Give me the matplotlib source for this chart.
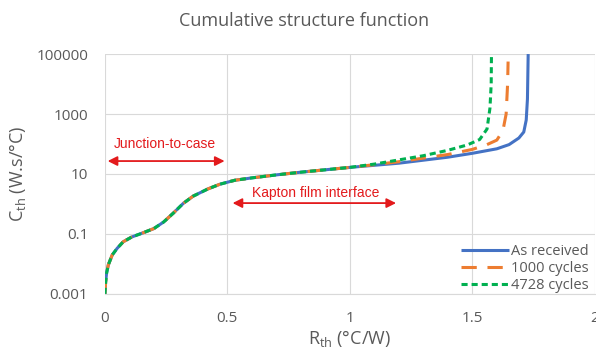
import numpy as np
import matplotlib
matplotlib.use('Agg')
import matplotlib.pyplot as plt

# shared part of the curve (all three samples overlap up to ~1 °C/W)
rth_common = [0.0, 0.003, 0.007, 0.014, 0.03, 0.05, 0.075, 0.11, 0.15, 0.2, 0.24, 0.28,
              0.32, 0.36, 0.42, 0.47, 0.53, 0.6, 0.7, 0.8, 0.9, 1.0]
logc_common = [-3.0, -2.6, -2.3, -2.03, -1.7, -1.48, -1.26, -1.1, -0.98, -0.82, -0.6, -0.3,
               0.02, 0.26, 0.5, 0.66, 0.79, 0.87, 0.97, 1.06, 1.14, 1.22]

# tails
rth_asrec = [1.1, 1.2, 1.3, 1.4, 1.5, 1.6, 1.65, 1.69, 1.71, 1.72, 1.725, 1.728]
logc_asrec = [1.29, 1.36, 1.46, 1.56, 1.69, 1.84, 1.98, 2.2, 2.4, 2.8, 3.5, 5.0]

rth_1000 = [1.1, 1.2, 1.3, 1.4, 1.5, 1.56, 1.6, 1.625, 1.638, 1.644, 1.646]
logc_1000 = [1.31, 1.41, 1.53, 1.65, 1.82, 1.98, 2.13, 2.45, 3.0, 4.0, 4.75]

rth_4728 = [1.1, 1.2, 1.3, 1.4, 1.48, 1.53, 1.56, 1.572, 1.577, 1.578]
logc_4728 = [1.33, 1.47, 1.61, 1.79, 1.97, 2.15, 2.5, 3.2, 4.0, 4.9]

labels = ['As received', '1000 cycles', '4728 cycles']
colors = ['#4472C4', '#ED7D31', '#00B050']

grey = '#595959'
plt.rcParams['font.family'] = ['Open Sans', 'DejaVu Sans']

fig = plt.figure(figsize=(5.96, 3.58), dpi=100)
ax = fig.add_axes([0.176, 0.179, 0.822, 0.670])

series = [(rth_asrec, logc_asrec, None),
          (rth_1000, logc_1000, (0, (5, 3.5))),
          (rth_4728, logc_4728, (0, (2, 1.3)))]
for (rx, lc, dash), lab, col in zip(series, labels, colors):
    x = np.array(rth_common + rx)
    y = 10.0 ** np.array(logc_common + lc)
    if dash is None:
        ax.plot(x, y, color=col, lw=2.2, label=lab, solid_capstyle='butt')
    else:
        ax.plot(x, y, color=col, lw=2.2, linestyle=dash, label=lab)

ax.set_yscale('log')
ax.set_xlim(0, 2)
ax.set_ylim(0.001, 100000)
ax.set_yticks([0.001, 0.1, 10, 1000, 100000])
ax.set_yticklabels(['0.001', '0.1', '10', '1000', '100000'])
ax.set_xticks([0, 0.5, 1, 1.5, 2])
ax.set_xticklabels(['0', '0.5', '1', '1.5', '2'])
ax.minorticks_off()
ax.tick_params(length=0, colors=grey, labelsize=11)
ax.tick_params(axis='x', pad=12)
ax.tick_params(axis='y', pad=12)
ax.grid(True, color='#d9d9d9', lw=0.8)
for s in ['top', 'right', 'left']:
    ax.spines[s].set_visible(False)
ax.spines['bottom'].set_color('#d9d9d9')

fig.text(0.51, 1 - 21 / 358, 'Cumulative structure function', color=grey, fontsize=13,
         ha='center', va='center')
ax.set_xlabel('R$_{\\mathregular{th}}$ (°C/W)', color=grey, fontsize=13, labelpad=2)
ax.set_ylabel('C$_{\\mathregular{th}}$ (W.s/°C)', color=grey, fontsize=13, labelpad=6)

red = '#E31A1C'
ax.annotate('', xy=(0.0, 27), xytext=(0.5, 27),
            arrowprops=dict(arrowstyle='<|-|>', color=red, lw=1.3, mutation_scale=14))
ax.text(0.245, 100, 'Junction-to-case', color=red, fontsize=10,
        family='Liberation Sans', ha='center', va='center')
ax.annotate('', xy=(0.51, 1.07), xytext=(1.2, 1.07),
            arrowprops=dict(arrowstyle='<|-|>', color=red, lw=1.3, mutation_scale=14))
ax.text(0.86, 2.3, 'Kapton film interface', color=red, fontsize=10,
        family='Liberation Sans', ha='center', va='center')

leg = ax.legend(loc='lower right', bbox_to_anchor=(1.0, -0.025), frameon=False,
                fontsize=10.5, handlelength=3.3, handletextpad=0.1, labelspacing=0.15,
                borderaxespad=0.05, labelcolor=grey)

fig.savefig('out.png', dpi=100)
